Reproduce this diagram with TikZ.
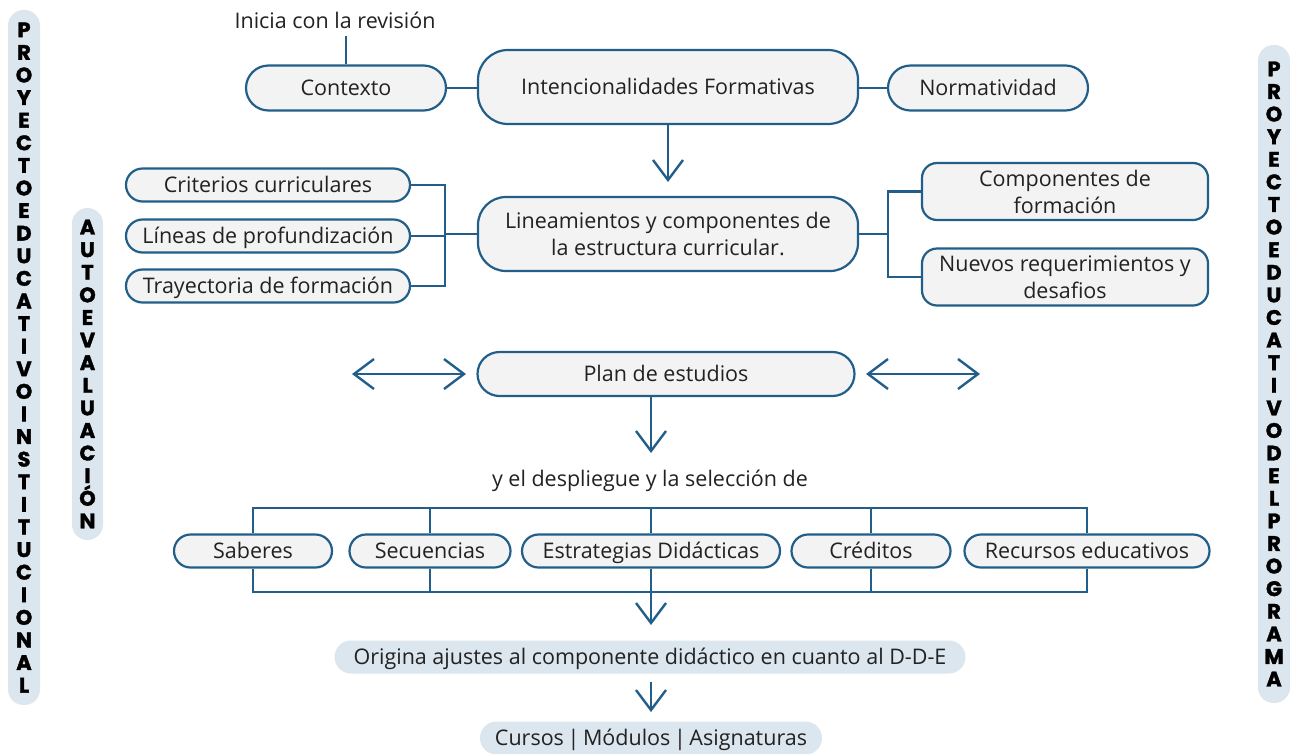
\documentclass[tikz,border=0pt]{standalone}
\usepackage{fontspec}
\setmainfont{Open Sans}
\newfontfamily\barfont{Poppins}[BoldFeatures={FakeBold=1.6}]
\usetikzlibrary{arrows.meta}
\definecolor{lc}{HTML}{215E8A}
\definecolor{bf}{HTML}{F3F3F3}
\definecolor{pb}{HTML}{DCE6EE}
\definecolor{tx}{HTML}{222222}
\tikzset{
  bx/.style={draw=lc, fill=bf, line width=2.2pt, inner sep=0pt, align=center,
    font=\fontsize{21.5}{27}\selectfont, text=tx},
  pbx/.style={fill=pb, inner sep=0pt, align=center,
    font=\fontsize{21.5}{27}\selectfont, text=tx},
  one/.style={text height=17pt, text depth=2pt},
  conn/.style={draw=lc, line width=2.6pt},
  barb/.tip={Straight Barb[length=20pt, width=30pt, line width=2.4pt]},
  arr/.style={conn, -barb},
  darr/.style={conn, barb-barb},
  vbar/.style={fill=pb, rounded corners=15.5pt, inner sep=0pt, align=center,
    font=\barfont\bfseries\fontsize{21}{22.6}\selectfont, text=black},
  lbl/.style={inner sep=0pt, font=\fontsize{21.5}{27}\selectfont, text=tx}
}
\begin{document}
\begin{tikzpicture}[x=1pt,y=-1pt]
\useasboundingbox (0,0) rectangle (1290,753);

% side bars
\node[vbar, minimum width=32pt, minimum height=695pt] (pei) at (24,357.5)
 {P\\R\\O\\Y\\E\\C\\T\\O\\E\\D\\U\\C\\A\\T\\I\\V\\O\\I\\N\\S\\T\\I\\T\\U\\C\\I\\O\\N\\A\\L};
\node[vbar, minimum width=31pt, minimum height=332pt] (auto) at (87.5,374)
 {A\\U\\T\\O\\E\\V\\A\\L\\U\\A\\C\\I\\Ó\\N};
\node[vbar, minimum width=32pt, minimum height=658pt] (pep) at (1274,374)
 {P\\R\\O\\Y\\E\\C\\T\\O\\E\\D\\U\\C\\A\\T\\I\\V\\O\\D\\E\\L\\P\\R\\O\\G\\R\\A\\M\\A};

% top row
\node[lbl] (ini) at (335,20) {Inicia con la revisión};
\coordinate (iniend) at (346,36);
\node[bx, one, rounded corners=22.5pt, minimum width=200pt, minimum height=45pt] (ctx) at (346,88) {Contexto};
\node[bx, one, rounded corners=30pt, minimum width=380pt, minimum height=74pt] (int) at (668,87) {Intencionalidades Formativas};
\node[bx, one, rounded corners=22.5pt, minimum width=200pt, minimum height=45pt] (nor) at (988,88) {Normatividad};
\draw[conn] (ctx.north) -- (iniend);
\draw[conn] (ctx.east) -- (int.west |- ctx.east);
\draw[conn] (int.east |- nor.west) -- (nor.west);

% lineamientos
\node[bx, rounded corners=28pt, minimum width=380pt, minimum height=74pt] (lin) at (668,234)
 {Lineamientos y componentes de\\la estructura curricular.};
\coordinate (a1) at (668,182);
\draw[arr] (int.south) -- (a1);

\node[bx, one, rounded corners=16.5pt, minimum width=284pt, minimum height=33pt] (cri) at (268,185) {Criterios curriculares};
\node[bx, one, rounded corners=16.5pt, minimum width=284pt, minimum height=33pt] (lpr) at (268,236) {Líneas de profundización};
\node[bx, one, rounded corners=16.5pt, minimum width=284pt, minimum height=33pt] (tra) at (268,286) {Trayectoria de formación};
\coordinate (lb) at (445,234);
\draw[conn] (cri.east) -- (cri.east -| lb) -- (tra.east -| lb) -- (tra.east);
\draw[conn] (lpr.east) -- (lpr.east -| lb);
\draw[conn] (lb) -- (lin.west);

\node[bx, rounded corners=15pt, minimum width=286pt, minimum height=57pt] (com) at (1065,191.5) {Componentes de\\formación};
\node[bx, rounded corners=15pt, minimum width=286pt, minimum height=57pt] (nue) at (1065,277) {Nuevos requerimientos y\\desafios};
\coordinate (rb) at (888,234);
\draw[conn] (lin.east) -- (rb);
\draw[conn] (com.west) -- (com.west -| rb) -- (nue.west -| rb) -- (nue.west);

% plan de estudios
\node[bx, one, rounded corners=22pt, minimum width=377pt, minimum height=44pt] (pla) at (666,374) {Plan de estudios};
\coordinate (dl1) at (352,374);
\coordinate (dl2) at (466,374);
\coordinate (dr1) at (866,374);
\coordinate (dr2) at (980,374);
\draw[darr] (dl1) -- (dl2);
\draw[darr] (dr1) -- (dr2);
\coordinate (pb) at (651,396);
\coordinate (a2) at (651,453);
\draw[arr] (pb) -- (a2);
\node[lbl] (sel) at (650,481) {y el despliegue y la selección de};

% selection row
\node[bx, one, rounded corners=16.5pt, minimum width=158pt, minimum height=33pt] (sab) at (253,551) {Saberes};
\node[bx, one, rounded corners=16.5pt, minimum width=161pt, minimum height=33pt] (sec) at (430,551) {Secuencias};
\node[bx, one, rounded corners=16.5pt, minimum width=258pt, minimum height=33pt] (est) at (651,551) {Estrategias Didácticas};
\node[bx, one, rounded corners=16.5pt, minimum width=159pt, minimum height=33pt] (cre) at (871,551) {Créditos};
\node[bx, one, rounded corners=16.5pt, minimum width=245pt, minimum height=33pt] (rec) at (1087,551) {Recursos educativos};
\coordinate (tb) at (0,508);
\coordinate (bb) at (0,592);
\draw[conn] (sab.north) -- (sab.north |- tb) -- (rec.north |- tb) -- (rec.north);
\draw[conn] (sec.north) -- (sec.north |- tb);
\draw[conn] (est.north) -- (est.north |- tb);
\draw[conn] (cre.north) -- (cre.north |- tb);
\draw[conn] (sab.south) -- (sab.south |- bb) -- (rec.south |- bb) -- (rec.south);
\draw[conn] (sec.south) -- (sec.south |- bb);
\draw[conn] (cre.south) -- (cre.south |- bb);
\coordinate (a3) at (651,625);
\draw[arr] (est.south) -- (a3);

% bottom
\node[pbx, one, rounded corners=16.5pt, minimum width=631pt, minimum height=33pt] (ori) at (650,657)
 {Origina ajustes al componente didáctico en cuanto al D-D-E};
\coordinate (a4s) at (651,682);
\coordinate (a4) at (651,712);
\draw[arr] (a4s) -- (a4);
\node[pbx, one, rounded corners=16.5pt, minimum width=342pt, minimum height=33pt] (cur) at (651,738)
 {Cursos\,|\,Módulos\,|\,Asignaturas};
\end{tikzpicture}
\end{document}
